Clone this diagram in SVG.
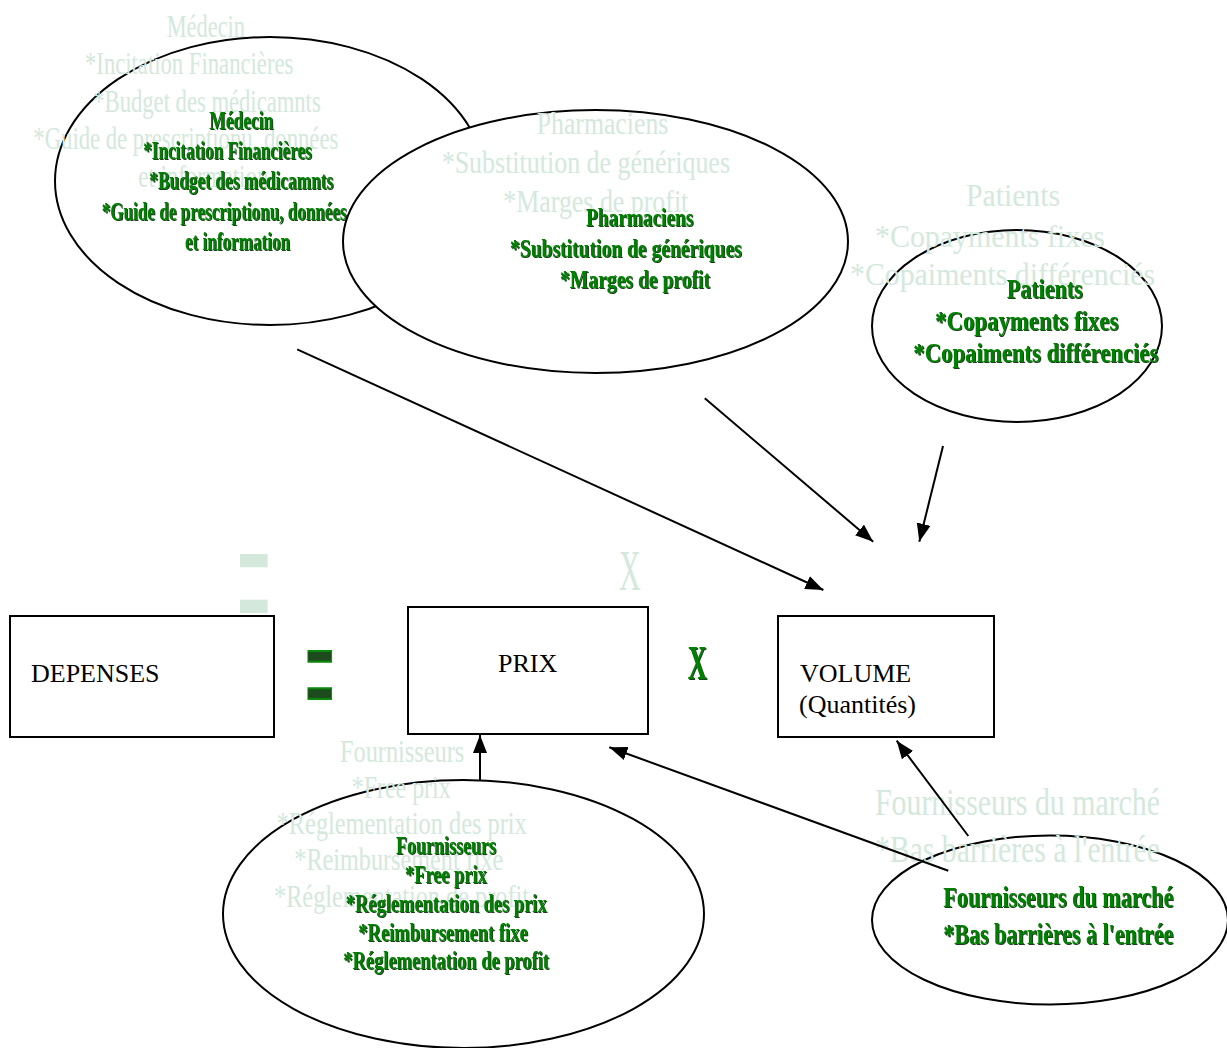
<svg xmlns="http://www.w3.org/2000/svg" width="1227" height="1048" viewBox="0 0 1227 1048">
<defs>
<style>
.ell{fill:#fff;stroke:#000;stroke-width:2}
.box{fill:#fff;stroke:#000;stroke-width:2}
.gh{font-family:"Liberation Serif","Times New Roman",serif;fill:#d4e8dc}
.gr{font-family:"Liberation Serif","Times New Roman",serif;font-weight:bold;fill:#008000;filter:url(#sh)}
.bt{font-family:"Liberation Serif","Times New Roman",serif;font-size:26px;fill:#000}
.con{stroke:#000;stroke-width:2;fill:none;marker-end:url(#ah)}
</style>
<filter id="sh" x="-5%" y="-20%" width="110%" height="150%">
<feOffset in="SourceAlpha" dx="1" dy="1" result="o"/>
<feFlood flood-color="#1c3f1c" result="c"/>
<feComposite in="c" in2="o" operator="in" result="s"/>
<feMerge><feMergeNode in="s"/><feMergeNode in="SourceGraphic"/></feMerge>
</filter>
<marker id="ah" markerUnits="userSpaceOnUse" markerWidth="19" markerHeight="15" refX="18" refY="7" orient="auto"><path d="M0,0 L18,7 L0,14 z" fill="#000"/></marker>
</defs>
<rect width="1227" height="1048" fill="#fff"/>

<g id="medecin">
<ellipse class="ell" cx="270" cy="181" rx="215" ry="144"/>
<g class="gh" font-size="32">
<text x="166.7" y="36.7" textLength="78.3" lengthAdjust="spacingAndGlyphs">Médecin</text>
<text x="85" y="74" textLength="208.3" lengthAdjust="spacingAndGlyphs">*Incitation Financières</text>
<text x="93.3" y="111.7" textLength="227.4" lengthAdjust="spacingAndGlyphs">*Budget des médicamnts</text>
<text x="33.3" y="149" textLength="305" lengthAdjust="spacingAndGlyphs">*Guide de prescriptionu, données</text>
<text x="138.3" y="186.5" textLength="130" lengthAdjust="spacingAndGlyphs">et information</text>
</g>
<g class="gr" font-size="26">
<text x="209.3" y="129" textLength="64" lengthAdjust="spacingAndGlyphs">Médecin</text>
<text x="143.3" y="159.3" textLength="168.4" lengthAdjust="spacingAndGlyphs">*Incitation Financières</text>
<text x="149.3" y="189.3" textLength="184" lengthAdjust="spacingAndGlyphs">*Budget des médicamnts</text>
<text x="101.7" y="220" textLength="245" lengthAdjust="spacingAndGlyphs">*Guide de prescriptionu, données</text>
<text x="185" y="250" textLength="105" lengthAdjust="spacingAndGlyphs">et information</text>
</g>
</g>

<g id="pharmaciens">
<ellipse class="ell" cx="595.5" cy="241.5" rx="252.5" ry="131.5"/>
<g class="gh" font-size="31">
<text x="536.7" y="133.5" textLength="131.6" lengthAdjust="spacingAndGlyphs">Pharmaciens</text>
<text x="441.7" y="173.3" textLength="288.3" lengthAdjust="spacingAndGlyphs">*Substitution de génériques</text>
<text x="503.3" y="211.7" textLength="185" lengthAdjust="spacingAndGlyphs">*Marges de profit</text>
</g>
<g class="gr" font-size="26">
<text x="586" y="226" textLength="107.3" lengthAdjust="spacingAndGlyphs">Pharmaciens</text>
<text x="510" y="256.7" textLength="231.7" lengthAdjust="spacingAndGlyphs">*Substitution de génériques</text>
<text x="560" y="288.3" textLength="150" lengthAdjust="spacingAndGlyphs">*Marges de profit</text>
</g>
</g>

<g id="patients">
<ellipse class="ell" cx="1017" cy="326" rx="145" ry="96"/>
<g class="gh" font-size="32">
<text x="966" y="206" textLength="94" lengthAdjust="spacingAndGlyphs">Patients</text>
<text x="875" y="246.7" textLength="230" lengthAdjust="spacingAndGlyphs">*Copayments fixes</text>
<text x="850" y="285" textLength="305" lengthAdjust="spacingAndGlyphs">*Copaiments différenciés</text>
</g>
<g class="gr" font-size="27">
<text x="1006.7" y="298.3" textLength="76" lengthAdjust="spacingAndGlyphs">Patients</text>
<text x="935" y="330" textLength="183.3" lengthAdjust="spacingAndGlyphs">*Copayments fixes</text>
<text x="913.3" y="361.7" textLength="245" lengthAdjust="spacingAndGlyphs">*Copaiments différenciés</text>
</g>
</g>

<g id="fournisseurs">
<ellipse class="ell" cx="463.5" cy="914" rx="240.5" ry="134"/>
<g class="gh" font-size="31">
<text x="340" y="762.3" textLength="124.3" lengthAdjust="spacingAndGlyphs">Fournisseurs</text>
<text x="351.7" y="798.3" textLength="99" lengthAdjust="spacingAndGlyphs">*Free prix</text>
<text x="276.7" y="834" textLength="250" lengthAdjust="spacingAndGlyphs">*Réglementation des prix</text>
<text x="294.3" y="870" textLength="209" lengthAdjust="spacingAndGlyphs">*Reimbursement fixe</text>
<text x="274" y="906.7" textLength="255" lengthAdjust="spacingAndGlyphs">*Réglementation de profit</text>
</g>
<g class="gr" font-size="25">
<text x="396" y="854" textLength="100" lengthAdjust="spacingAndGlyphs">Fournisseurs</text>
<text x="405" y="883.3" textLength="81.7" lengthAdjust="spacingAndGlyphs">*Free prix</text>
<text x="345.7" y="911.7" textLength="201" lengthAdjust="spacingAndGlyphs">*Réglementation des prix</text>
<text x="358.3" y="940.7" textLength="169.4" lengthAdjust="spacingAndGlyphs">*Reimbursement fixe</text>
<text x="343.3" y="969.3" textLength="205.7" lengthAdjust="spacingAndGlyphs">*Réglementation de profit</text>
</g>
</g>

<g id="fournisseurs-marche">
<ellipse class="ell" cx="1050" cy="920" rx="178" ry="84.5"/>
<g class="gh" font-size="37">
<text x="875" y="815" textLength="285" lengthAdjust="spacingAndGlyphs">Fournisseurs du marché</text>
<text x="875" y="861.7" textLength="285" lengthAdjust="spacingAndGlyphs">*Bas barrières à l'entrée</text>
</g>
<g class="gr" font-size="30">
<text x="943.3" y="906.7" textLength="230" lengthAdjust="spacingAndGlyphs">Fournisseurs du marché</text>
<text x="943.3" y="944" textLength="230" lengthAdjust="spacingAndGlyphs">*Bas barrières à l'entrée</text>
</g>
</g>

<g id="depenses">
<rect class="box" x="10" y="616" width="264" height="121"/>
<text class="bt" x="31" y="682">DEPENSES</text>
</g>
<g id="prix">
<rect class="box" x="408" y="607" width="240" height="127"/>
<text class="bt" x="498" y="672">PRIX</text>
</g>
<g id="volume">
<rect class="box" x="778" y="616" width="216" height="121"/>
<text class="bt" x="800" y="682">VOLUME</text>
<text class="bt" x="799" y="713">(Quantités)</text>
</g>

<g id="operators">
<text transform="translate(237.3,644) scale(0.302,0.97)" font-family="Liberation Sans, Arial, sans-serif" font-size="188" fill="#d4e8dc">=</text>
<text transform="translate(305.6,723.9) scale(0.332,1)" font-family="Liberation Sans, Arial, sans-serif" font-size="148" fill="#1e4b1e" stroke="#0a8a0a" stroke-width="2">=</text>
<text transform="translate(630,590) scale(0.535,1)" text-anchor="middle" font-family="Liberation Serif, Times New Roman, serif" font-size="56.4" fill="#d4e8dc">X</text>
<text class="gr" transform="translate(697.2,679.3) scale(0.55,1)" text-anchor="middle" font-size="47.7">X</text>
</g>

<g id="connectors">
<line class="con" x1="297.2" y1="349.3" x2="823.4" y2="590"/>
<line class="con" x1="704.8" y1="398.3" x2="873.2" y2="541.7"/>
<line class="con" x1="943" y1="446" x2="919.3" y2="541.7"/>
<line class="con" x1="480" y1="780" x2="480" y2="735"/>
<line class="con" x1="948.3" y1="870.7" x2="609.3" y2="747.3"/>
<line class="con" x1="968.3" y1="836" x2="896.7" y2="740.7"/>
</g>
</svg>
